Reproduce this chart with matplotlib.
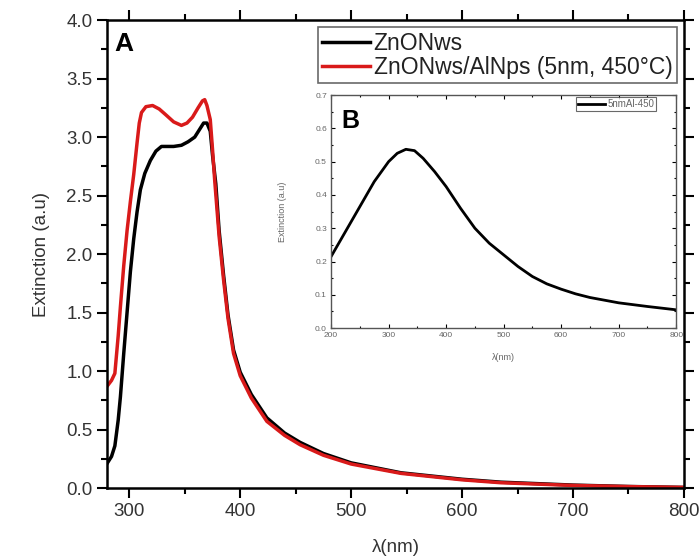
import matplotlib.pyplot as plt
from matplotlib.ticker import MultipleLocator

plt.rcParams['font.family'] = ['Liberation Sans', 'DejaVu Sans']

# main panel A
wl_black = [280, 284, 287, 290, 292, 295, 298, 301, 304, 307, 310, 314, 319, 324, 329, 340,
            347, 353, 359, 363, 367, 370, 373, 375, 378, 381, 385, 389, 394, 400, 410, 424,
            440, 454, 475, 500, 545, 600, 635, 700, 750, 800]
ext_black = [0.21, 0.27, 0.36, 0.58, 0.78, 1.15, 1.5, 1.85, 2.13, 2.36, 2.55, 2.69, 2.8,
             2.88, 2.92, 2.92, 2.93, 2.96, 3.0, 3.06, 3.12, 3.12, 3.05, 2.85, 2.6, 2.2, 1.82,
             1.48, 1.18, 0.99, 0.8, 0.6, 0.47, 0.39, 0.295, 0.215, 0.13, 0.075, 0.05, 0.025,
             0.013, 0.005]

wl_red = [280, 284, 287, 290, 292, 295, 298, 301, 304, 307, 309, 311, 315, 321, 327, 333,
          340, 347, 352, 357, 362, 366, 368, 370, 373, 375, 377, 381, 385, 389, 394, 400,
          410, 424, 440, 454, 475, 500, 545, 600, 635, 700, 750, 800]
ext_red = [0.87, 0.92, 0.98, 1.3, 1.55, 1.9, 2.2, 2.45, 2.68, 2.95, 3.12, 3.21, 3.26, 3.27,
           3.24, 3.19, 3.13, 3.1, 3.12, 3.17, 3.25, 3.31, 3.32, 3.27, 3.15, 2.9, 2.63, 2.15,
           1.78, 1.45, 1.15, 0.96, 0.77, 0.57, 0.45, 0.37, 0.28, 0.205, 0.125, 0.07, 0.045,
           0.022, 0.012, 0.005]

# inset panel B
wl_inset = [200, 225, 250, 275, 300, 315, 330, 345, 360, 380, 400, 425, 450, 475, 500, 525,
            550, 575, 600, 625, 650, 700, 750, 800]
ext_inset = [0.215, 0.29, 0.365, 0.44, 0.5, 0.525, 0.537, 0.533, 0.51, 0.47, 0.425, 0.36,
             0.3, 0.255, 0.22, 0.185, 0.155, 0.133, 0.117, 0.103, 0.092, 0.076, 0.065, 0.055]

fig = plt.figure(figsize=(7, 5.59), dpi=100)
ax = fig.add_axes([0.153, 0.127, 0.824, 0.837])

ax.plot(wl_black, ext_black, color='black', lw=2.5, label='ZnONws')
ax.plot(wl_red, ext_red, color='#d91a1a', lw=2.5, label='ZnONws/AlNps (5nm, 450°C)')
ax.set_xlim(280, 800)
ax.set_ylim(0, 4.0)
ax.xaxis.set_major_locator(MultipleLocator(100))
ax.xaxis.set_minor_locator(MultipleLocator(50))
ax.yaxis.set_major_locator(MultipleLocator(0.5))
ax.yaxis.set_minor_locator(MultipleLocator(0.25))
ax.tick_params(which='both', direction='out', top=True, right=True, width=1.5,
               labelsize=13.5, labelcolor='#333333')
ax.tick_params(which='major', length=7)
ax.tick_params(which='minor', length=4)
for s in ax.spines.values():
    s.set_linewidth(1.8)
ax.set_xlabel('λ(nm)', fontsize=13.5, color='#333333', labelpad=14)
ax.set_ylabel('Extinction (a.u)', fontsize=13.5, color='#333333', labelpad=12)
ax.text(0.013, 0.975, 'A', transform=ax.transAxes, fontsize=19, fontweight='bold',
        ha='left', va='top')

leg = ax.legend(loc='upper right', fontsize=16.5, frameon=True, fancybox=False,
                edgecolor='#444444', handlelength=2.1, handletextpad=0.15,
                borderpad=0.2, labelspacing=0.05, borderaxespad=0.3)
leg.get_frame().set_linewidth(1.2)
for t in leg.get_texts():
    t.set_color('#222222')

# inset
ins = fig.add_axes([0.473, 0.413, 0.493, 0.417])
ins.plot(wl_inset, ext_inset, color='black', lw=2, label='5nmAl-450')
ins.set_xlim(200, 800)
ins.set_ylim(0, 0.7)
ins.xaxis.set_major_locator(MultipleLocator(100))
ins.xaxis.set_minor_locator(MultipleLocator(50))
ins.yaxis.set_major_locator(MultipleLocator(0.1))
ins.yaxis.set_minor_locator(MultipleLocator(0.05))
ins.tick_params(which='both', direction='in', top=True, right=True, width=0.8,
                labelsize=6, labelcolor='#666666', pad=3)
ins.tick_params(which='major', length=3)
ins.tick_params(which='minor', length=1.5)
for s in ins.spines.values():
    s.set_linewidth(1.0)
    s.set_color('#555555')
ins.set_xlabel('λ(nm)', fontsize=6.5, color='#666666', labelpad=10)
ins.set_ylabel('Extinction (a.u)', fontsize=6.5, color='#666666', labelpad=20)
ins.text(0.03, 0.94, 'B', transform=ins.transAxes, fontsize=18, fontweight='bold',
         ha='left', va='top')
ileg = ins.legend(loc='upper right', bbox_to_anchor=(0.942, 0.99), borderaxespad=0,
                  fontsize=7, frameon=True, fancybox=False, edgecolor='#444444',
                  handlelength=2.8, handletextpad=0.2, borderpad=0.2)
for t in ileg.get_texts():
    t.set_color('#666666')
ileg.get_frame().set_linewidth(0.8)

fig.savefig('out.png', dpi=100)
